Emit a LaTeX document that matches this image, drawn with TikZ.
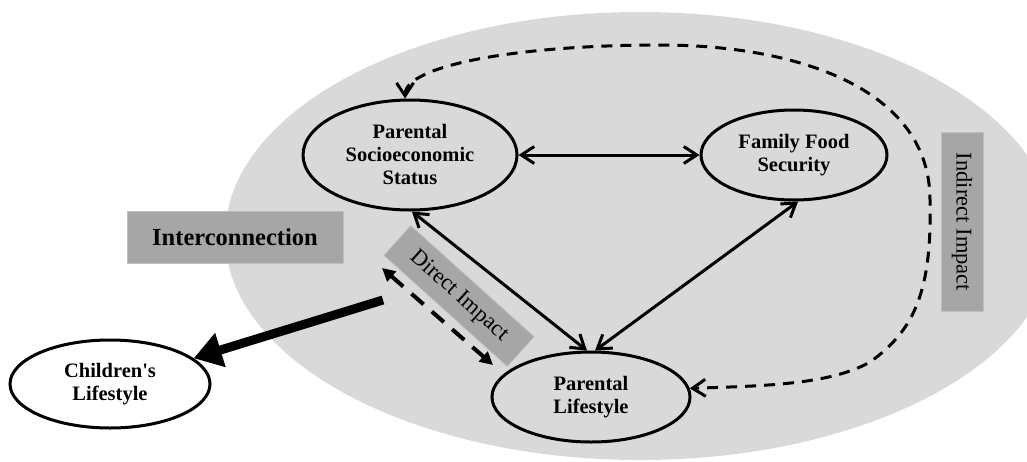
\documentclass[tikz,border=0pt]{standalone}
\usepackage{fontspec}
\setmainfont{Liberation Serif}
\usetikzlibrary{shapes.geometric,arrows.meta}
\definecolor{bggray}{HTML}{D9D9D9}
\definecolor{boxgray}{HTML}{A6A6A6}
\definecolor{boxedge}{HTML}{BFBFBF}
\begin{document}
\begin{tikzpicture}[x=1pt,y=-1pt,
  ell/.style={ellipse, draw, line width=3pt, inner sep=0pt, align=center,
    font=\fontsize{20.5}{23}\selectfont\bfseries},
  lbl/.style={fill=boxgray, draw=boxedge, line width=0.8pt, inner sep=0pt, align=center},
  link/.style={line width=3pt, {Straight Barb[length=13pt,width=17pt]}-{Straight Barb[length=13pt,width=17pt]}},
  dlink/.style={line width=3pt, dash pattern=on 11pt off 8pt,
    {Straight Barb[length=13pt,width=17pt]}-{Straight Barb[length=13pt,width=17pt]}},
  ddlink/.style={line width=4pt, dash pattern=on 16pt off 11pt,
    {Triangle[length=13pt,width=13pt]}-{Triangle[length=13pt,width=13pt]}},
  thick arrow/.style={line width=9pt, -{Triangle[length=28pt,width=34pt]}}
]
\useasboundingbox (0,0) rectangle (1027,461);
\clip (0,0) rectangle (1027,461);
% background
\node[ellipse, fill=bggray, minimum width=830pt, minimum height=448pt, inner sep=0pt] (bg) at (640,236) {};
% main nodes
\node[ell, minimum width=214pt, minimum height=110pt] (ses) at (410,155) {Parental\\Socioeconomic\\Status};
\node[ell, minimum width=186pt, minimum height=90pt] (ffs) at (794,155) {Family Food\\Security};
\node[ell, minimum width=198pt, minimum height=90pt] (pl) at (591,397) {Parental\\Lifestyle};
\node[ell, fill=white, minimum width=200pt, minimum height=88pt] (cl) at (110,384) {Children\textquotesingle s\\Lifestyle};
% label boxes
\node[lbl, minimum width=216pt, minimum height=52pt, font=\fontsize{24.5}{28}\selectfont\bfseries] (inter) at (235,237) {Interconnection};
\node[lbl, rotate=-42, minimum width=166pt, minimum height=40pt, font=\fontsize{22.5}{26}\selectfont] (direct) at (459,296) {Direct Impact};
\node[lbl, rotate=-90, minimum width=179pt, minimum height=42pt, font=\fontsize{22.5}{26}\selectfont] (indirect) at (962,222) {Indirect Impact};
% connectors
\draw[link] (ses) -- (ffs);
\draw[link] (ses.-88) -- (pl.95);
\draw[link] (ffs.-85) -- (pl.85);
\draw[dlink] (ses.95) .. controls (405,65) and (520,45) .. (660,45)
  .. controls (800,45) and (930,90) .. (930,200)
  .. controls (932,290) and (915,330) .. (870,362)
  .. controls (830,385) and (760,386) .. (pl.5);
\coordinate (da) at (382,268);
\coordinate (db) at (493,365);
\draw[ddlink] (da) -- (db);
\coordinate (tk) at (383,300);
\draw[thick arrow] (tk) -- (cl);
\end{tikzpicture}
\end{document}
